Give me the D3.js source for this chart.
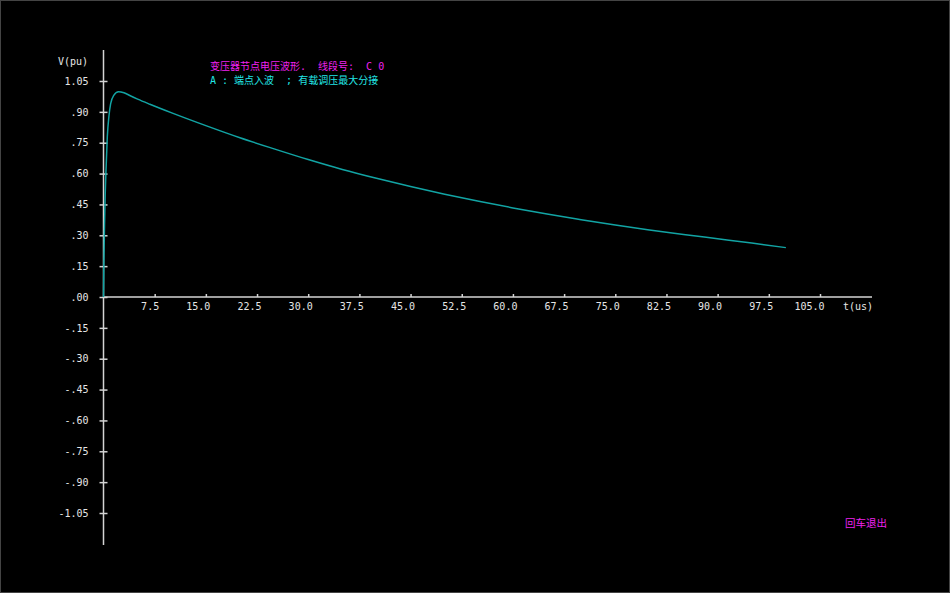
<!DOCTYPE html>
<html>
<head>
<meta charset="utf-8">
<script src="https://cdn.jsdelivr.net/npm/d3@7"></script>
<style>
  html, body { margin: 0; padding: 0; background: #000; }
  svg { display: block; }
  text { white-space: pre; }
</style>
</head>
<body>
<div id="chart"></div>
<script>
// waveform: time (us) and voltage (pu)
var times = [0, 0.05, 0.15, 0.25, 0.37, 0.56, 0.8, 1.05, 1.5, 2.2, 3, 4, 5, 6.8, 10, 15, 20, 25, 30, 35, 40, 45, 50, 55, 60, 65, 70, 75, 80, 85, 90, 95, 100];
var volts = [0, 0.15, 0.35, 0.5, 0.62, 0.78, 0.88, 0.94, 0.98, 0.998, 0.993, 0.977, 0.962, 0.937, 0.895, 0.833, 0.774, 0.72, 0.668, 0.62, 0.577, 0.537, 0.5, 0.465, 0.433, 0.403, 0.376, 0.35, 0.326, 0.304, 0.283, 0.262, 0.24];

var xTicks = [7.5, 15, 22.5, 30, 37.5, 45, 52.5, 60, 67.5, 75, 82.5, 90, 97.5, 105];
var xLabels = ["7.5", "15.0", "22.5", "30.0", "37.5", "45.0", "52.5", "60.0", "67.5", "75.0", "82.5", "90.0", "97.5", "105.0"];
var yTicks = [1.05, 0.9, 0.75, 0.6, 0.45, 0.3, 0.15, 0, -0.15, -0.3, -0.45, -0.6, -0.75, -0.9, -1.05];
var yLabels = ["1.05", ".90", ".75", ".60", ".45", ".30", ".15", ".00", "-.15", "-.30", "-.45", "-.60", "-.75", "-.90", "-1.05"];

var title1 = "变压器节点电压波形.  线段号:  C 0";
var title2 = "A : 端点入波  ; 有载调压最大分接";

var width = 950, height = 593;
var axisCol = "#d4d4d4";
var mono = "'DejaVu Sans Mono', monospace";
var mixed = "'DejaVu Sans Mono', 'Noto Sans CJK SC', sans-serif";
var nb = function(s) { return s.replace(/ /g, "\u00a0"); };

var svg = d3.select("#chart")
  .append("svg")
  .attr("width", width)
  .attr("height", height);

svg.append("rect")
  .attr("x", 0.5).attr("y", 0.5)
  .attr("width", width - 1).attr("height", height - 1)
  .attr("fill", "#000")
  .attr("stroke", "#444");

var x = d3.scaleLinear()
  .domain([0, 105])
  .range([103.5, 820]);

var y = d3.scaleLinear()
  .domain([-1.05, 1.05])
  .range([513, 81]);

// axis lines
svg.append("line")
  .attr("x1", x(0)).attr("x2", 872)
  .attr("y1", y(0)).attr("y2", y(0))
  .attr("stroke", axisCol).attr("stroke-width", 1.5);
svg.append("line")
  .attr("x1", x(0)).attr("x2", x(0))
  .attr("y1", 50).attr("y2", 545)
  .attr("stroke", axisCol).attr("stroke-width", 1.5);

// x axis
var gx = svg.append("g")
  .attr("transform", "translate(0," + y(0) + ")")
  .call(d3.axisBottom(x)
    .tickValues(xTicks)
    .tickFormat(function(d, i) { return xLabels[i]; })
    .tickSize(-3)
    .tickPadding(6));
gx.select(".domain").remove();
gx.selectAll("line").attr("stroke", axisCol).attr("stroke-width", 1.5);
gx.selectAll("text")
  .attr("fill", "#e6e6e6")
  .attr("font-family", mono)
  .attr("font-size", 10)
  .attr("text-anchor", "end")
  .attr("dx", 4);

// y axis
var gy = svg.append("g")
  .attr("transform", "translate(" + x(0) + ",0)")
  .call(d3.axisLeft(y)
    .tickValues(yTicks)
    .tickFormat(function(d, i) { return yLabels[i]; })
    .tickSize(4)
    .tickPadding(11));
gy.select(".domain").remove();
gy.selectAll("line").attr("x1", 4).attr("stroke", axisCol).attr("stroke-width", 1.5);
gy.selectAll("text")
  .attr("fill", "#e6e6e6")
  .attr("font-family", mono)
  .attr("font-size", 10);

svg.append("text")
  .attr("x", 88).attr("y", 65)
  .attr("text-anchor", "end")
  .attr("fill", "#e6e6e6")
  .attr("font-family", mono)
  .attr("font-size", 10)
  .text("V(pu)");

svg.append("text")
  .attr("x", 843).attr("y", 310)
  .attr("fill", "#e6e6e6")
  .attr("font-family", mono)
  .attr("font-size", 10)
  .text("t(us)");

// waveform
var pts = times.map(function(t, i) { return [t, volts[i]]; });
var line = d3.line()
  .x(function(d) { return x(d[0]); })
  .y(function(d) { return y(d[1]); })
  .curve(d3.curveMonotoneX);

svg.append("path")
  .datum(pts)
  .attr("d", line)
  .attr("fill", "none")
  .attr("stroke", "#12a4a4")
  .attr("stroke-width", 1.5);

// captions
svg.append("text")
  .attr("x", 210).attr("y", 70)
  .attr("fill", "#ee22ee")
  .attr("font-family", mixed)
  .attr("font-size", 10)
  .text(nb(title1));

svg.append("text")
  .attr("x", 210).attr("y", 84)
  .attr("fill", "#22e6e6")
  .attr("font-family", mixed)
  .attr("font-size", 10)
  .text(nb(title2));

svg.append("text")
  .attr("x", 845).attr("y", 527)
  .attr("fill", "#ee22ee")
  .attr("font-family", mixed)
  .attr("font-size", 10.5)
  .text("回车退出");
</script>
</body>
</html>
